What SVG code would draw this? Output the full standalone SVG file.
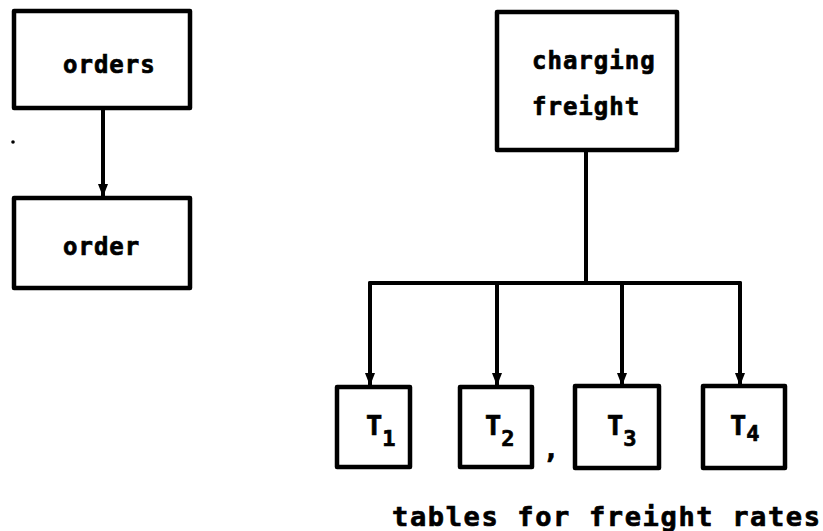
<svg xmlns="http://www.w3.org/2000/svg" width="823" height="531" viewBox="0 0 823 531">
  <style>
    .box { fill: #fff; stroke: #000; stroke-width: 4.5; stroke-linejoin: round; }
    .wire { fill: none; stroke: #000; stroke-width: 4; stroke-linecap: round; }
    .lbl { font-family: "DejaVu Sans Mono", "Liberation Mono", monospace; font-weight: bold; font-size: 24px; letter-spacing: 1px; fill: #000; stroke: #000; stroke-width: 0.7; }
    .t { font-family: "DejaVu Sans Mono", "Liberation Mono", monospace; font-weight: bold; font-size: 27px; fill: #000; stroke: #000; stroke-width: 0.7; }
    .sub { font-size: 22px; }
    .cap { font-family: "DejaVu Sans Mono", "Liberation Mono", monospace; font-weight: bold; font-size: 27px; fill: #000; stroke: #000; stroke-width: 0.7; }
  </style>
  <defs>
    <marker id="head" viewBox="0 0 14 10" refX="13" refY="5" markerWidth="14" markerHeight="10" markerUnits="userSpaceOnUse" orient="auto">
      <path d="M0,0 L13,5 L0,10 Z" fill="#000"/>
    </marker>
  </defs>
  <rect width="823" height="531" fill="#fff"/>

  <g id="connectors">
    <line class="wire" x1="103" y1="108" x2="103" y2="197" marker-end="url(#head)"/>
    <line class="wire" x1="586" y1="150" x2="586" y2="283"/>
    <line class="wire" x1="370" y1="283" x2="740" y2="283"/>
    <line class="wire" x1="370" y1="283" x2="370" y2="386" marker-end="url(#head)"/>
    <line class="wire" x1="497" y1="283" x2="497" y2="386" marker-end="url(#head)"/>
    <line class="wire" x1="622" y1="283" x2="622" y2="386" marker-end="url(#head)"/>
    <line class="wire" x1="740" y1="283" x2="740" y2="386" marker-end="url(#head)"/>
  </g>

  <g id="orders">
    <rect class="box" x="14" y="11" width="176" height="97"/>
    <text class="lbl" x="63" y="73">orders</text>
  </g>
  <g id="order">
    <rect class="box" x="14" y="198" width="176" height="90"/>
    <text class="lbl" x="63" y="255">order</text>
  </g>
  <circle cx="13" cy="142" r="1.8" fill="#000"/>

  <g id="charging-freight">
    <rect class="box" x="497" y="12" width="180" height="138"/>
    <text class="lbl" x="532" y="69">charging</text>
    <text class="lbl" x="532" y="115">freight</text>
  </g>

  <g id="t1">
    <rect class="box" x="337" y="387" width="73" height="80"/>
    <text class="t" x="366" y="435">T<tspan class="sub" dy="11">1</tspan></text>
  </g>
  <g id="t2">
    <rect class="box" x="460" y="387" width="72" height="80"/>
    <text class="t" x="485" y="435">T<tspan class="sub" dy="11">2</tspan></text>
  </g>
  <text class="t" x="543" y="458" font-size="18">,</text>
  <g id="t3">
    <rect class="box" x="575" y="386" width="84" height="82"/>
    <text class="t" x="607" y="435">T<tspan class="sub" dy="11">3</tspan></text>
  </g>
  <g id="t4">
    <rect class="box" x="703" y="386" width="82" height="82"/>
    <text class="t" x="730" y="435">T<tspan class="sub" dy="6">4</tspan></text>
  </g>

  <text class="cap" x="392" y="526" textLength="428" lengthAdjust="spacing">tables for freight rates</text>
</svg>
